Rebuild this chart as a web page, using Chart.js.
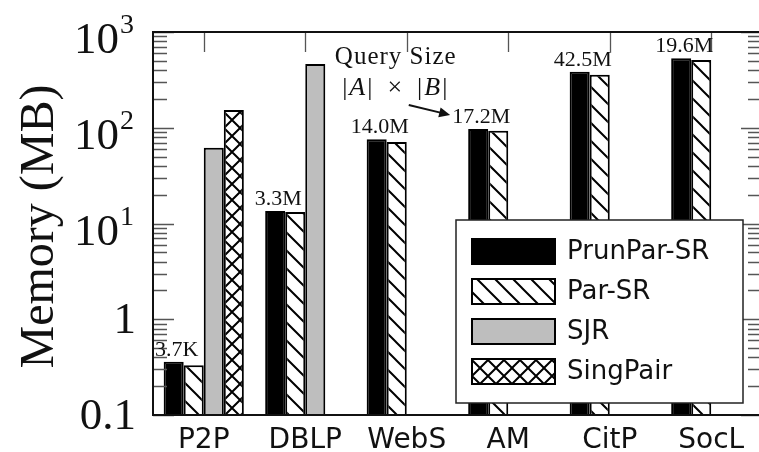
<!DOCTYPE html>
<html lang="en">
<head>
    <meta charset="UTF-8">
    <title>Memory (MB)</title>
    <script src="https://cdn.jsdelivr.net/npm/chart.js"></script>
    <style>
        html, body { margin: 0; padding: 0; background: #fff; overflow: hidden; }
        /* the plot frame runs a few px past the right edge of the picture */
        #wrap { width: 759px; height: 452px; overflow: hidden; }
    </style>
</head>
<body>
    <div id="wrap"><canvas id="memChart" width="763" height="452"></canvas></div>

    <script>
        // Data (memory in MB, log axis)
        const graphs = ['P2P', 'DBLP', 'WebS', 'AM', 'CitP', 'SocL'];
        const prunParSR = [0.36, 13.5, 76, 97, 385, 533];
        const parSR = [0.33, 13.2, 71, 93, 357, 510];
        const sjr = [62, 463, null, null, null, null];
        const singPair = [153, null, null, null, null, null];
        const querySizes = ['3.7K', '3.3M', '14.0M', '17.2M', '42.5M', '19.6M'];
        const yTicks = [0.1, 1, 10, 100, 1000];
        const yTickBase = ['0.1', '1', '10', '10', '10'];
        const yTickExp = ['', '', '1', '2', '3'];

        // Fill patterns for the hatched bars
        const makePattern = (kind) => {
            const s = kind === 'cross' ? 16 : 18;
            const c = document.createElement('canvas');
            c.width = s; c.height = s;
            const g = c.getContext('2d');
            g.fillStyle = '#fff';
            g.fillRect(0, 0, s, s);
            g.strokeStyle = '#000';
            g.lineWidth = 2;
            g.beginPath();
            // "\" lines
            g.moveTo(-2, -2); g.lineTo(s + 2, s + 2);
            g.moveTo(s - 2, -2); g.lineTo(s + 2, 2);
            g.moveTo(-2, s - 2); g.lineTo(2, s + 2);
            if (kind === 'cross') {
                // "/" lines
                g.moveTo(-2, s + 2); g.lineTo(s + 2, -2);
                g.moveTo(-2, 2); g.lineTo(2, -2);
                g.moveTo(s - 2, s + 2); g.lineTo(s + 2, s - 2);
            }
            g.stroke();
            return document.getElementById('memChart').getContext('2d').createPattern(c, 'repeat');
        };

        const hatchFill = makePattern('hatch');
        const crossFill = makePattern('cross');

        // Ticks, frame, axis texts, annotations and legend
        const decorations = {
            id: 'decorations',
            afterDatasetsDraw(chart) {
                const { ctx, chartArea: a, scales: { x, y } } = chart;
                ctx.save();

                // minor + major ticks on both sides, category ticks on top
                ctx.strokeStyle = '#555';
                ctx.lineWidth = 1.3;
                ctx.beginPath();
                for (let d = -1; d <= 2; d++) {
                    for (let m = 2; m <= 9; m++) {
                        const py = Math.round(y.getPixelForValue(m * Math.pow(10, d))) + 0.5;
                        ctx.moveTo(a.left, py); ctx.lineTo(a.left + 14, py);
                        ctx.moveTo(a.right - 14, py); ctx.lineTo(a.right, py);
                    }
                }
                yTicks.forEach(v => {
                    const py = Math.round(y.getPixelForValue(v)) + 0.5;
                    ctx.moveTo(a.left, py); ctx.lineTo(a.left + 21, py);
                    ctx.moveTo(a.right - 21, py); ctx.lineTo(a.right, py);
                });
                graphs.forEach((g, i) => {
                    const px = Math.round(x.getPixelForValue(i)) + 0.5;
                    ctx.moveTo(px, a.top); ctx.lineTo(px, a.top + 20);
                });
                ctx.stroke();

                // frame: left, top and bottom lines (right side is off the picture)
                ctx.strokeStyle = '#111';
                ctx.lineWidth = 2;
                ctx.beginPath();
                ctx.moveTo(a.left, a.top - 1); ctx.lineTo(a.left, a.bottom + 1);
                ctx.stroke();
                ctx.beginPath();
                ctx.moveTo(a.left, a.top); ctx.lineTo(chart.width, a.top);
                ctx.stroke();
                ctx.beginPath();
                ctx.moveTo(a.left, a.bottom); ctx.lineTo(chart.width, a.bottom);
                ctx.stroke();

                // y tick labels (10 with superscript)
                ctx.fillStyle = '#111';
                ctx.textAlign = 'right';
                ctx.textBaseline = 'alphabetic';
                yTicks.forEach((v, i) => {
                    const py = y.getPixelForValue(v);
                    const right = a.left - 19;
                    if (yTickExp[i]) {
                        ctx.font = '28px "Liberation Serif"';
                        ctx.fillText(yTickExp[i], right, py + 1);
                        const ew = ctx.measureText(yTickExp[i]).width;
                        ctx.font = '45px "Liberation Serif"';
                        ctx.fillText(yTickBase[i], right - ew - 1, py + 21);
                    } else {
                        ctx.font = '45px "Liberation Serif"';
                        ctx.fillText(yTickBase[i], right + 2, py + 14);
                    }
                });

                // y axis title
                ctx.save();
                ctx.translate(40, (a.top + a.bottom) / 2 + 3);
                ctx.rotate(-Math.PI / 2);
                ctx.font = '48px "Liberation Serif"';
                ctx.textAlign = 'center';
                ctx.textBaseline = 'middle';
                ctx.fillText('Memory (MB)', 0, 0);
                ctx.restore();

                // query size labels above the PrunPar-SR bars
                const bars = chart.getDatasetMeta(0).data;
                ctx.font = '22px "Liberation Serif"';
                ctx.textAlign = 'center';
                querySizes.forEach((t, i) => {
                    ctx.fillText(t, bars[i].x + 3, bars[i].y - 6);
                });

                // "Query Size |A| x |B|" note with arrow to 17.2M
                const noteX = x.getPixelForValue(2) - 11;
                ctx.font = '25px "Liberation Serif"';
                ctx.letterSpacing = '1px';
                ctx.fillText('Query Size', noteX, a.top + 32);
                ctx.letterSpacing = '0px';
                const parts = [['|', ''], ['A', 'italic '], ['|', ''], ['  \u00d7  ', ''], ['|', ''], ['B', 'italic '], ['|', '']];
                let total = 0;
                parts.forEach(p => { ctx.font = p[1] + '26px "Liberation Serif"'; total += ctx.measureText(p[0]).width + 2; });
                let cx = noteX - total / 2;
                ctx.textAlign = 'left';
                parts.forEach(p => {
                    ctx.font = p[1] + '26px "Liberation Serif"';
                    ctx.fillText(p[0], cx, a.top + 63);
                    cx += ctx.measureText(p[0]).width + 2;
                });
                ctx.font = '22px "Liberation Serif"';
                const amW = ctx.measureText(querySizes[3]).width;
                const ex = bars[3].x + 3 - amW / 2 - 2;
                const ey = bars[3].y - 14;
                const sx = noteX + 13, sy = a.top + 73;
                const ang = Math.atan2(ey - sy, ex - sx);
                ctx.strokeStyle = '#111';
                ctx.lineWidth = 2;
                ctx.beginPath();
                ctx.moveTo(sx, sy);
                ctx.lineTo(ex - 8 * Math.cos(ang), ey - 8 * Math.sin(ang));
                ctx.stroke();
                ctx.beginPath();
                ctx.moveTo(ex, ey);
                ctx.lineTo(ex - 11 * Math.cos(ang) + 5 * Math.sin(ang), ey - 11 * Math.sin(ang) - 5 * Math.cos(ang));
                ctx.lineTo(ex - 11 * Math.cos(ang) - 5 * Math.sin(ang), ey - 11 * Math.sin(ang) + 5 * Math.cos(ang));
                ctx.closePath();
                ctx.fillStyle = '#111';
                ctx.fill();
                ctx.beginPath();

                // legend box inside the plot
                const bw = 287, bh = 183;
                const bx = a.right - 19 - bw, by = a.bottom - 12 - bh;
                ctx.fillStyle = '#fff';
                ctx.fillRect(bx, by, bw, bh);
                ctx.strokeStyle = '#222';
                ctx.lineWidth = 1.5;
                ctx.strokeRect(bx, by, bw, bh);
                chart.data.datasets.forEach((ds, i) => {
                    const sy0 = by + 18 + i * 40;
                    ctx.fillStyle = ds.backgroundColor;
                    ctx.fillRect(bx + 15, sy0, 85, 27);
                    ctx.strokeStyle = '#000';
                    ctx.lineWidth = 2;
                    ctx.strokeRect(bx + 16, sy0 + 1, 83, 25);
                    ctx.fillStyle = '#111';
                    ctx.font = '26px "DejaVu Sans"';
                    ctx.textAlign = 'left';
                    ctx.textBaseline = 'middle';
                    ctx.fillText(ds.label, bx + 111, sy0 + 14);
                });

                ctx.restore();
            }
        };

        new Chart(document.getElementById('memChart'), {
            type: 'bar',
            data: {
                labels: graphs,
                datasets: [
                    { label: 'PrunPar-SR', data: prunParSR, backgroundColor: '#000' },
                    { label: 'Par-SR', data: parSR, backgroundColor: hatchFill },
                    { label: 'SJR', data: sjr, backgroundColor: '#bebebe' },
                    { label: 'SingPair', data: singPair, backgroundColor: crossFill }
                ].map(d => Object.assign(d, {
                    borderColor: '#000',
                    borderWidth: 2,
                    categoryPercentage: 0.79,
                    barPercentage: 1
                }))
            },
            options: {
                responsive: false,
                animation: false,
                layout: { padding: { top: 32, right: 1, left: 0, bottom: 0 } },
                plugins: {
                    legend: { display: false },
                    tooltip: { enabled: false }
                },
                scales: {
                    x: {
                        grid: { display: false, drawTicks: false },
                        border: { display: false },
                        ticks: {
                            font: { family: 'DejaVu Sans', size: 28 },
                            color: '#111',
                            padding: 9,
                            maxRotation: 0
                        },
                        afterFit: (s) => { s.height = 37; }
                    },
                    y: {
                        type: 'logarithmic',
                        min: 0.1,
                        max: 1000,
                        grid: { display: false, drawTicks: false },
                        border: { display: false },
                        ticks: { display: false },
                        afterFit: (s) => { s.width = 153; }
                    }
                }
            },
            plugins: [decorations]
        });
    </script>
</body>
</html>
